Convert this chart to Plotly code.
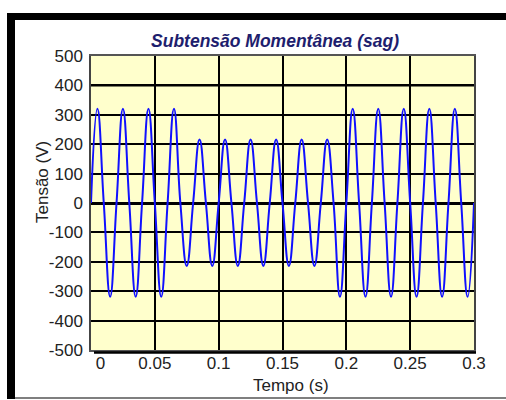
import plotly.graph_objects as go

# ---- data (extrema and zero crossings every quarter cycle) ----
time_s = [round(0.005 * i, 3) for i in range(61)]
tension_v = [
    0, 321, 0, -319,    # 0.00-0.02
    0, 321, 0, -319,    # 0.02-0.04
    0, 321, 0, -319,    # 0.04-0.06
    0, 321, 0, -214,    # 0.06-0.08 (sag starts at 0.07)
    0, 216, 0, -214,    # 0.08-0.10
    0, 216, 0, -214,    # 0.10-0.12
    0, 216, 0, -214,    # 0.12-0.14
    0, 216, 0, -214,    # 0.14-0.16
    0, 216, 0, -214,    # 0.16-0.18
    0, 216, 0, -319,    # 0.18-0.20 (sag ends at 0.19)
    0, 321, 0, -319,    # 0.20-0.22
    0, 321, 0, -319,    # 0.22-0.24
    0, 321, 0, -319,    # 0.24-0.26
    0, 321, 0, -319,    # 0.26-0.28
    0, 321, 0, -319,    # 0.28-0.30
    0,
]
x_tick_vals = [0, 0.05, 0.1, 0.15, 0.2, 0.25, 0.3]
x_tick_text = ["\u00a0\u00a0\u00a0\u00a00", "0.05", "0.1", "0.15", "0.2", "0.25", "0.3"]
y_tick_vals = [-500, -400, -300, -200, -100, 0, 100, 200, 300, 400, 500]
y_tick_text = ["-500", "-400", "-300", "-200", "-100", "0", "100", "200", "300", "400", "500"]

title_text = "Subtensão Momentânea (sag)"
x_title = "Tempo (s)"
y_title = "Tensão (V)"

FONT = "Liberation Sans, Arial, sans-serif"

fig = go.Figure()
fig.add_trace(go.Scatter(
    x=time_s, y=tension_v, mode="lines",
    line=dict(color="#1010ff", width=2, shape="spline", smoothing=1.3),
    hoverinfo="x+y", showlegend=False,
))

# plot area: x 91..474 px, y 56..350 px
W, H = 506, 400
L, R, T, B = 91, 32, 56, 50
pw, ph = W - L - R, H - T - B

def px(x):
    return (x - L) / pw

def py(y):
    return (H - B - y) / ph

shapes = [
    # outer frame: top bar, left bar, bottom thin line
    dict(type="rect", xref="paper", yref="paper", x0=px(7), x1=px(506), y0=py(20), y1=py(13),
         fillcolor="black", line=dict(width=0), layer="above"),
    dict(type="rect", xref="paper", yref="paper", x0=px(7), x1=px(15), y0=py(399), y1=py(13),
         fillcolor="black", line=dict(width=0), layer="above"),
    dict(type="line", xref="paper", yref="paper", x0=px(15), x1=px(506), y0=py(398), y1=py(398),
         line=dict(color="black", width=1.2), layer="above"),
    # detached x axis line below plot
    dict(type="line", xref="paper", yref="paper", x0=px(94), x1=px(476), y0=py(352.5), y1=py(352.5),
         line=dict(color="black", width=2.5), layer="above"),
    # thick gridline at 400
    dict(type="line", xref="paper", yref="y", x0=0, x1=1, y0=400, y1=400,
         line=dict(color="black", width=2.2), layer="below"),
]

annotations = [
    dict(text=x_title, xref="paper", yref="paper", x=px(291), y=py(385),
         xanchor="center", yanchor="middle", showarrow=False,
         font=dict(family=FONT, size=17, color="#222222")),
    dict(text=y_title, xref="paper", yref="paper", x=px(42), y=py(182),
         xanchor="center", yanchor="middle", showarrow=False, textangle=-90,
         font=dict(family=FONT, size=17, color="#222222")),
]

fig.update_layout(
    width=W, height=H,
    margin=dict(l=L, r=R, t=T, b=B, autoexpand=False),
    paper_bgcolor="white",
    plot_bgcolor="#ffffcc",
    font=dict(family=FONT, size=17, color="#222222"),
    title=dict(text=f"<b><i>{title_text}</i></b>", x=275 / W, xanchor="center",
               y=1 - 41 / H, yanchor="middle", yref="container", automargin=False,
               font=dict(family=FONT, size=17.5, color="#1e1e6e")),
    xaxis=dict(range=[0, 0.3], tickvals=x_tick_vals, ticktext=x_tick_text,
               showgrid=True, gridcolor="black", gridwidth=1.5,
               showline=True, linecolor="#555555", linewidth=1.5, mirror=True,
               zeroline=False, ticks="", ticklabelstandoff=-3, automargin=False),
    yaxis=dict(range=[-500, 500], tickvals=y_tick_vals, ticktext=y_tick_text,
               showgrid=True, gridcolor="black", gridwidth=1.5,
               showline=True, linecolor="#444444", linewidth=1.5, mirror=True,
               zeroline=True, zerolinecolor="black", zerolinewidth=2.5,
               ticks="", ticklabelstandoff=3, automargin=False),
    shapes=shapes,
    annotations=annotations,
)

fig.write_html("out.html")
